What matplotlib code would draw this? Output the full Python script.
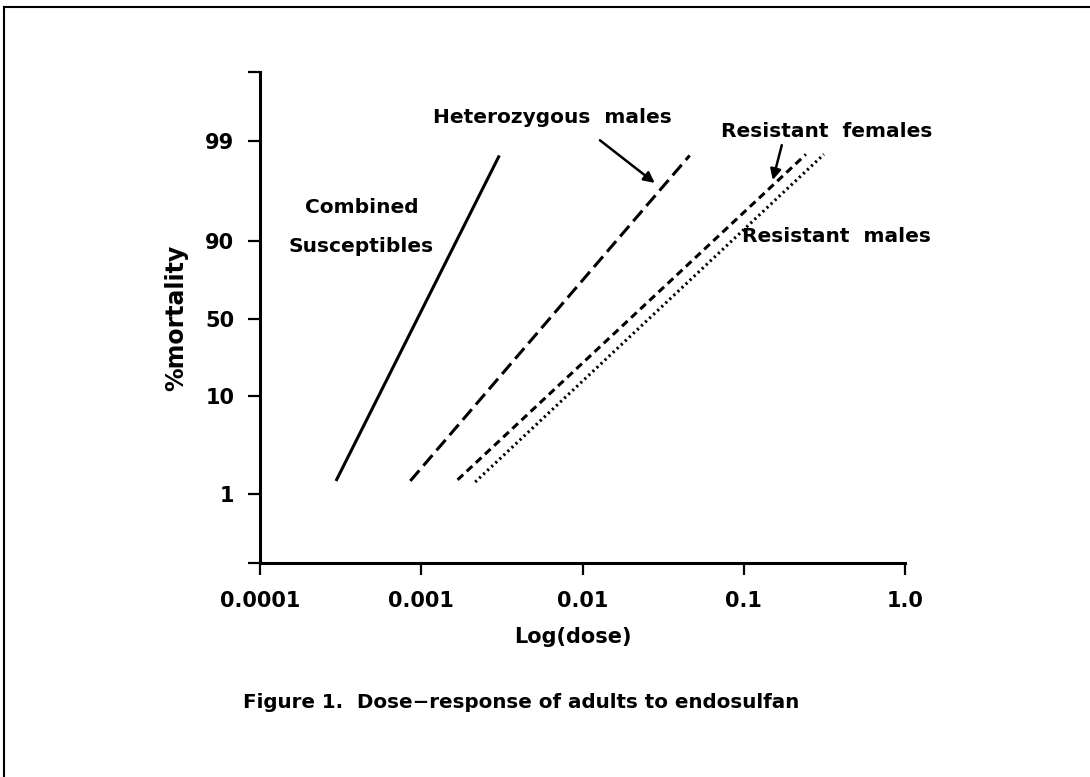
import numpy as np
import matplotlib
matplotlib.use('Agg')
import matplotlib.pyplot as plt
from matplotlib.lines import Line2D

plt.rcParams['font.family'] = ['DejaVu Sans']
plt.rcParams['font.weight'] = 'bold'
plt.rcParams['lines.scale_dashes'] = False

# ---- data ----
groups = ['Combined Susceptibles', 'Heterozygous males', 'Resistant females', 'Resistant males']
dose_low = [0.000296, 0.000855, 0.00168, 0.00216]
dose_high = [0.00305, 0.0462, 0.243, 0.314]
mort_low = [2.2, 2.2, 2.3, 2.1]
mort_high = [97.7, 97.7, 97.8, 97.8]

mort_ticks = [1, 10, 50, 90, 99]
mort_labels = ['1', '10', '50', '90', '99']
dose_ticks = [0.0001, 0.001, 0.01, 0.1, 1.0]
dose_labels = ['0.0001', '0.001', '0.01', '0.1', '1.0']

# y axis of the original is a hand-spaced mortality scale
PCT = np.array(mort_ticks, float)
POS = np.array([0, 98, 175, 253, 353], float)
s0 = (POS[1] - POS[0]) / (PCT[1] - PCT[0])
s1 = (POS[-1] - POS[-2]) / (PCT[-1] - PCT[-2])

def fwd(p):
    p = np.asarray(p, float)
    z = np.interp(p, PCT, POS)
    z = np.where(p < PCT[0], POS[0] + (p - PCT[0]) * s0, z)
    z = np.where(p > PCT[-1], POS[-1] + (p - PCT[-1]) * s1, z)
    return z

def inv(z):
    z = np.asarray(z, float)
    p = np.interp(z, POS, PCT)
    p = np.where(z < POS[0], PCT[0] + (z - POS[0]) / s0, p)
    p = np.where(z > POS[-1], PCT[-1] + (z - POS[-1]) / s1, p)
    return p

styles = [dict(linestyle='-'),
          dict(linestyle=(0, (10, 4.5))),
          dict(linestyle=(0, (5.5, 3.5))),
          dict(linestyle=(0, (1.6, 2.4)))]

fig = plt.figure(figsize=(10.9, 7.77), dpi=100)
ax = fig.add_axes([260/1090, 1 - 563/777, 645/1090, 491/777])
ax.set_xscale('log')
ax.set_yscale('function', functions=(fwd, inv))

for i in range(len(groups)):
    ax.plot([dose_low[i], dose_high[i]], [mort_low[i], mort_high[i]],
            color='black', lw=2.2, solid_capstyle='butt', dash_capstyle='butt',
            **styles[i])

ylo, yhi = float(inv(-69)), float(inv(422))
ax.set_xlim(0.0001, 1.0)
ax.set_ylim(ylo, yhi)
ax.set_xticks(dose_ticks, dose_labels)
ax.xaxis.set_minor_locator(matplotlib.ticker.NullLocator())
ax.set_yticks([ylo] + mort_ticks + [yhi], [''] + mort_labels + [''])
ax.yaxis.set_minor_locator(matplotlib.ticker.NullLocator())

for s in ['top', 'right']:
    ax.spines[s].set_visible(False)
for s in ['left', 'bottom']:
    ax.spines[s].set_linewidth(2.2)
ax.tick_params(axis='both', direction='out', length=8.5, width=1.6, labelsize=15)
ax.tick_params(axis='y', pad=10)
ax.tick_params(axis='x', pad=12)

ax.set_xlabel('Log(dose)', fontsize=15, fontweight='bold')
ax.xaxis.set_label_coords(0.485, -0.13)
ax.set_ylabel('%mortality', fontsize=17, fontweight='bold')
ax.yaxis.set_label_coords(-0.112, 0.5)

# labels
ax.text(0.158, 0.725, 'Combined', transform=ax.transAxes, ha='center', va='center', fontsize=14.5)
ax.text(0.156, 0.644, 'Susceptibles', transform=ax.transAxes, ha='center', va='center', fontsize=14.5)
ax.text(0.454, 0.908, 'Heterozygous  males', transform=ax.transAxes, ha='center', va='center', fontsize=14.5)
ax.text(0.878, 0.878, 'Resistant  females', transform=ax.transAxes, ha='center', va='center', fontsize=14.5)
ax.text(1.04, 0.664, 'Resistant  males', transform=ax.transAxes, ha='right', va='center', fontsize=14.5)

arrow = dict(arrowstyle='-|>', color='black', lw=1.8, mutation_scale=16, shrinkA=0, shrinkB=0)
ax.annotate('', xy=(0.612, 0.774), xytext=(0.527, 0.861), xycoords='axes fraction',
            textcoords='axes fraction', arrowprops=arrow)
ax.annotate('', xy=(0.795, 0.780), xytext=(0.809, 0.851), xycoords='axes fraction',
            textcoords='axes fraction', arrowprops=arrow)

fig.text(0.478, 1 - 702/777, 'Figure 1.  Dose\u2212response of adults to endosulfan',
         ha='center', va='center', fontsize=14.3)

# frame lines of the scanned page
fig.add_artist(Line2D([0.004, 0.004], [0, 0.991], transform=fig.transFigure, color='black', lw=1.5))
fig.add_artist(Line2D([0.004, 1.0], [0.991, 0.991], transform=fig.transFigure, color='black', lw=1.5))

fig.savefig('out.png', dpi=100)
